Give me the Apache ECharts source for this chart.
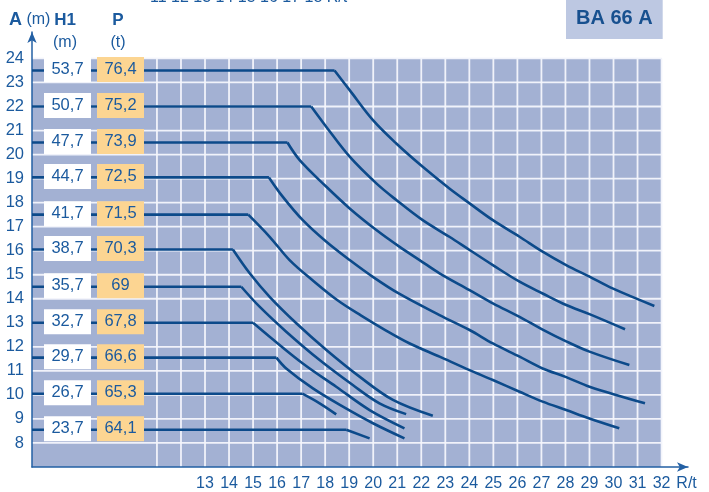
<!DOCTYPE html>
<html>
<head>
<meta charset="utf-8">
<script src="https://cdn.jsdelivr.net/npm/echarts@6/dist/echarts.min.js"></script>
<style>
html,body{margin:0;padding:0;background:#ffffff;}
#chart{width:709px;height:492px;}
</style>
</head>
<body>
<div id="chart"></div>
<script>
// ---- tick labels / grid values ----
const xTickLabels = [13,14,15,16,17,18,19,20,21,22,23,24,25,26,27,28,29,30,31,32];
const xGridValues = [11,12,13,14,15,16,17,18,19,20,21,22,23,24,25,26,27,28,29,30,31,32];
const yTickLabels = [8,9,10,11,12,13,14,15,16,17,18,19,20,21,22,23,24];

// ---- rows: A level, H1 (m), P (t) ----
const levels = [23.5, 22, 20.5, 19.05, 17.5, 16.05, 14.5, 13, 11.55, 10.05, 8.55];
const h1Values = ['53,7','50,7','47,7','44,7','41,7','38,7','35,7','32,7','29,7','26,7','23,7'];
const pValues  = ['76,4','75,2','73,9','72,5','71,5','70,3','69','67,8','66,6','65,3','64,1'];

// ---- curves (R/t, A) from the break point to the end ----
const curve1 = [[18.39,23.5],[19.02,22.68],[19.99,21.43],[20.96,20.46],[22.06,19.49],[23.17,18.59],[24.01,17.97],[24.98,17.27],[26.09,16.58],[27.05,15.96],[28.03,15.40],[29.00,14.92],[29.96,14.43],[31.70,13.70]];
const curve2 = [[17.42,22],[18.05,21.15],[19.02,19.91],[20.13,18.80],[20.96,18.11],[22.06,17.27],[23.17,16.58],[24.01,16.03],[24.98,15.40],[26.09,14.71],[27.05,14.22],[28.03,13.74],[29.00,13.36],[30.48,12.73]];
const curve3 = [[16.43,20.5],[16.94,19.77],[18.05,18.66],[19.02,17.76],[20.13,16.86],[21.10,16.16],[21.93,15.61],[22.76,15.06],[24.01,14.36],[24.98,13.81],[26.09,13.25],[27.05,12.72],[28.03,12.23],[29.00,11.80],[30.66,11.24]];
const curve4 = [[15.66,19.05],[16.24,18.24],[17.07,17.27],[18.05,16.37],[19.02,15.61],[20.0,14.90],[21.06,14.22],[22.76,13.32],[24.01,12.70],[24.98,12.14],[26.09,11.59],[27.05,11.10],[28.03,10.74],[29.00,10.34],[31.31,9.65]];
const curve5 = [[14.8,17.5],[15.69,16.58],[16.52,15.61],[17.5,14.75],[18.5,13.95],[19.5,13.30],[20.5,12.70],[21.5,12.15],[22.76,11.59],[24.01,11.03],[24.98,10.62],[26.09,10.13],[27.05,9.72],[28.03,9.37],[29.00,9.02],[30.24,8.61]];
const curve6 = [[14.16,16.05],[14.86,15.06],[15.69,14.08],[16.80,12.98],[18.05,11.87],[19.43,10.76],[20.82,9.79],[22.48,9.13]];
const curve7 = [[14.51,14.5],[15.27,13.67],[16.38,12.63],[17.77,11.45],[19.15,10.41],[20.26,9.65],[21.37,9.20]];
const curve8 = [[15.00,13],[15.69,12.42],[17.07,11.31],[18.46,10.34],[19.85,9.37],[21.30,8.61]];
const curve9 = [[15.97,11.55],[16.38,11.10],[17.49,10.27],[18.74,9.51],[19.99,8.82],[21.30,8.19]];
const curve10 = [[17.05,10.05],[17.77,9.65],[18.46,9.19]];
const curve11 = [[18.88,8.55],[19.85,8.19]];
const curves = [curve1,curve2,curve3,curve4,curve5,curve6,curve7,curve8,curve9,curve10,curve11];

// ---- axis ranges ----
const X_MIN = 5.8, X_MAX = 33.1, Y_MIN = 7, Y_MAX = 25.1;
const PLOT_X_END = 32, PLOT_Y_END = 24;

const BLUE_TEXT = '#1B5A9E';
const LINE_BLUE = '#0C4A8A';
const FONT = "'Liberation Sans', Arial, sans-serif";

const chart = echarts.init(document.getElementById('chart'), null, {renderer:'canvas'});

const lineStyle = {color: LINE_BLUE, width: 2.6, cap: 'butt', join: 'miter'};
const flatSeries = curves.map((c, i) => ({
  type: 'line',
  data: [[X_MIN, levels[i]], c[0]],
  showSymbol: false, symbol: 'none', smooth: false,
  lineStyle: lineStyle, z: 3, silent: true, animation: false
}));
const curveSeries = curves.map((c) => ({
  type: 'line',
  data: c,
  showSymbol: false, symbol: 'none', smooth: 0.35,
  lineStyle: lineStyle, z: 3, silent: true, animation: false
}));

const option = {
  animation: false,
  backgroundColor: '#ffffff',
  title: {
    text: 'BA 66 A',
    left: 566,
    top: 0,
    padding: [8, 10, 11, 10],
    backgroundColor: '#BDC8E2',
    textStyle: {fontFamily: FONT, fontSize: 20, fontWeight: 'bold', color: '#17508F'}
  },
  grid: {left: 32, right: 21, top: 32, bottom: 25, containLabel: false, outerBoundsMode: 'none'},
  xAxis: {
    type: 'value', min: X_MIN, max: X_MAX,
    name: 'R/t', nameLocation: 'end', nameGap: -15,
    nameTextStyle: {fontFamily: FONT, fontSize: 16, color: BLUE_TEXT, verticalAlign: 'top', align: 'left', padding: [9,0,0,0]},
    axisLine: {show: true, onZero: false, symbol: ['none','arrow'], symbolSize: [7, 11], lineStyle: {color: '#2360A4', width: 1.5}},
    axisTick: {show: false},
    splitLine: {show: false},
    axisLabel: {customValues: xTickLabels, fontFamily: FONT, fontSize: 16, color: BLUE_TEXT, margin: 9}
  },
  yAxis: {
    type: 'value', min: Y_MIN, max: Y_MAX,
    axisLine: {show: true, onZero: false, symbol: ['none','arrow'], symbolSize: [7, 11], lineStyle: {color: '#2360A4', width: 1.5}},
    axisTick: {show: false},
    splitLine: {show: false},
    axisLabel: {customValues: yTickLabels, fontFamily: FONT, fontSize: 16.5, color: BLUE_TEXT, margin: 8, padding: [0,0,9,0]}
  },
  graphic: [
    {type:'text', x: 150, y: -2, style:{text:'11 12 13 14 15 16 17 18 R/t', font:'16px ' + FONT, fill: BLUE_TEXT, verticalAlign:'middle'}},
    {type:'text', x: 9, y: 20, style:{text:'{b|A} (m)', font:'16px ' + FONT, fill: BLUE_TEXT, verticalAlign:'middle', rich:{b:{fontWeight:'bold', fontSize:18, fontFamily: FONT, fill: BLUE_TEXT}}}},
    {type:'text', x: 65, y: 20, style:{text:'H1', font:'bold 17px ' + FONT, fill: BLUE_TEXT, align:'center', verticalAlign:'middle'}},
    {type:'text', x: 65, y: 43, style:{text:'(m)', font:'16px ' + FONT, fill: BLUE_TEXT, align:'center', verticalAlign:'middle'}},
    {type:'text', x: 118, y: 20, style:{text:'P', font:'bold 17px ' + FONT, fill: BLUE_TEXT, align:'center', verticalAlign:'middle'}},
    {type:'text', x: 118, y: 43, style:{text:'(t)', font:'16px ' + FONT, fill: BLUE_TEXT, align:'center', verticalAlign:'middle'}}
  ],
  series: [
    {
      type: 'custom',
      z: -1,
      silent: true,
      data: [[X_MIN, Y_MIN]],
      renderItem: function (params, api) {
        const children = [];
        const tl = api.coord([X_MIN, PLOT_Y_END]);
        const br = api.coord([PLOT_X_END, Y_MIN]);
        children.push({type:'rect', shape:{x: tl[0], y: tl[1], width: br[0]-tl[0], height: br[1]-tl[1]}, style:{fill:'#A3B1D3'}});
        xGridValues.forEach(v => {
          const a = api.coord([v, PLOT_Y_END]), b = api.coord([v, Y_MIN]);
          children.push({type:'line', shape:{x1:a[0], y1:a[1], x2:b[0], y2:b[1]}, style:{stroke:'rgba(244,246,252,0.95)', lineWidth:1.8}});
        });
        yTickLabels.forEach(v => {
          const a = api.coord([X_MIN, v]), b = api.coord([PLOT_X_END, v]);
          children.push({type:'line', shape:{x1:a[0], y1:a[1], x2:b[0], y2:b[1]}, style:{stroke:'rgba(244,246,252,0.95)', lineWidth:1.8}});
        });
        return {type:'group', children: children};
      }
    }
  ].concat(flatSeries).concat(curveSeries).concat([
    {
      type: 'custom',
      z: 5,
      silent: true,
      data: levels.map((v, i) => [X_MIN, v, i]),
      renderItem: function (params, api) {
        const i = api.value(2);
        const pt = api.coord([api.value(0), api.value(1)]);
        const cy = pt[1] - 1;
        const h = 25;
        return {type:'group', children:[
          {type:'rect', shape:{x: pt[0]+12, y: cy - h/2, width: 47, height: h}, style:{fill:'#ffffff'}},
          {type:'rect', shape:{x: pt[0]+65, y: cy - h/2, width: 47, height: h}, style:{fill:'#FCD592'}},
          {type:'text', x: pt[0]+35.5, y: cy, style:{text: h1Values[i], font:'16.5px ' + FONT, fill: BLUE_TEXT, align:'center', verticalAlign:'middle'}},
          {type:'text', x: pt[0]+88.5, y: cy, style:{text: pValues[i], font:'16.5px ' + FONT, fill: BLUE_TEXT, align:'center', verticalAlign:'middle'}}
        ]};
      }
    }
  ])
};

chart.setOption(option);
</script>
</body>
</html>
